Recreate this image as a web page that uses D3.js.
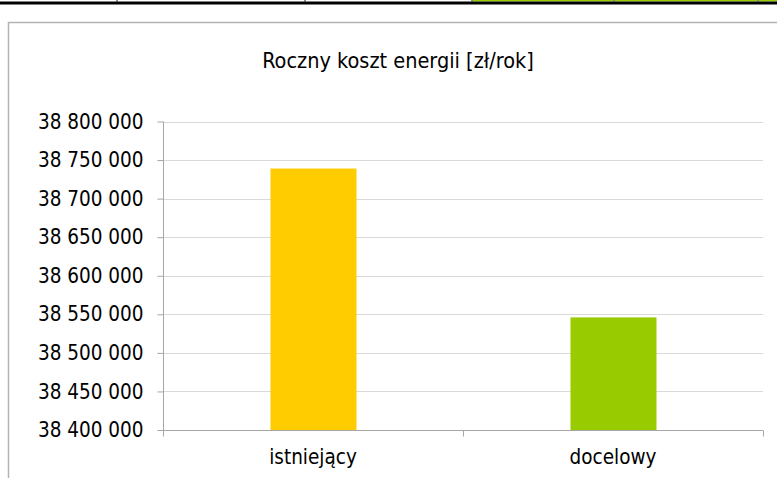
<!DOCTYPE html>
<html>
<head>
<meta charset="utf-8">
<script src="https://cdn.jsdelivr.net/npm/d3@7"></script>
<style>
  html, body { margin: 0; padding: 0; background: #fff; overflow: hidden; }
  svg { display: block; }
  text { font-family: "DejaVu Sans Condensed", "DejaVu Sans", sans-serif; fill: #000; }
</style>
</head>
<body>
<svg id="chart" width="777" height="478"></svg>
<script>
// data
let categories = ["istniejący", "docelowy"];
let values = [38739000, 38546000];
let barColors = ["#ffcc00", "#99cc00"];
let yTicks = [38400000, 38450000, 38500000, 38550000, 38600000, 38650000, 38700000, 38750000, 38800000];
let title = "Roczny koszt energii [zł/rok]";

// leftover table strip on top of the page (cells, green ones on the right)
let stripCells = [0, 117, 305, 472, 614, 758];
let stripGreen = [false, false, false, true, true, true];

let svg = d3.select("#chart");

let plot = { left: 163, right: 763, top: 121.5, bottom: 430 };

let x = d3.scaleBand().domain(categories).range([plot.left, plot.right]).paddingInner(0).paddingOuter(0);
let y = d3.scaleLinear().domain([yTicks[0], yTicks[yTicks.length - 1]]).range([plot.bottom, plot.top]);

let pl = d3.formatLocale({ decimal: ",", thousands: " ", grouping: [3], currency: ["", ""] });
let fmt = pl.format(",d");

// top strip
svg.append("g").selectAll("rect").data(stripCells).enter().append("rect")
	.attr("x", function(d) { return d; })
	.attr("y", 0)
	.attr("width", function(d, i) { return (i < stripCells.length - 1 ? stripCells[i + 1] : 777) - d; })
	.attr("height", 1.5)
	.attr("fill", function(d, i) { return stripGreen[i] ? "#99cc00" : "#fff"; });
svg.append("g").selectAll("rect").data(stripCells.slice(1)).enter().append("rect")
	.attr("x", function(d) { return d - 1; })
	.attr("y", 0).attr("width", 2).attr("height", 1.5)
	.attr("fill", "#888");
svg.append("rect").attr("x", 0).attr("y", 1.5).attr("width", 777).attr("height", 3).attr("fill", "#000");

// chart frame (runs off the page on the right and bottom)
svg.append("path")
	.attr("d", "M8.5,480 V22.5 H780")
	.attr("fill", "none")
	.attr("stroke", "#b3b3b3")
	.attr("stroke-width", 1.5);

// title
svg.append("text")
	.attr("x", 398).attr("y", 68)
	.attr("text-anchor", "middle")
	.style("font-size", "21.5px")
	.text(title);

// gridlines
svg.append("g").selectAll("line").data(yTicks.slice(1)).enter().append("line")
	.attr("x1", plot.left).attr("x2", plot.right)
	.attr("y1", function(d) { return Math.round(y(d)) + 0.5; })
	.attr("y2", function(d) { return Math.round(y(d)) + 0.5; })
	.attr("stroke", "#d9d9d9").attr("stroke-width", 1);

// bars
let barW = 86;
svg.append("g").selectAll("rect").data(values).enter().append("rect")
	.attr("x", function(d, i) { return x(categories[i]) + x.bandwidth() / 2 - barW / 2 + 0.5; })
	.attr("y", function(d) { return y(d); })
	.attr("width", barW)
	.attr("height", function(d) { return plot.bottom - y(d); })
	.attr("fill", function(d, i) { return barColors[i]; });

// y axis
let yAxis = svg.append("g")
	.attr("transform", "translate(" + (plot.left + 0.5) + ",0)")
	.call(d3.axisLeft(y).tickValues(yTicks).tickFormat(fmt).tickSize(6).tickSizeOuter(0).tickPadding(14));
yAxis.select(".domain").attr("stroke", "#a6a6a6").attr("d", "M0," + plot.top + "V" + (plot.bottom + 6));
yAxis.selectAll(".tick line").attr("stroke", "#a6a6a6");
yAxis.selectAll(".tick text").style("font-size", "20.5px").style("font-family", "\"DejaVu Sans Condensed\", sans-serif").attr("fill", "#000");

// x axis
let xAxis = svg.append("g")
	.attr("transform", "translate(0," + (plot.bottom + 0.5) + ")")
	.call(d3.axisBottom(x).tickSize(0).tickPadding(19));
xAxis.select(".domain").attr("stroke", "#a6a6a6").attr("d", "M" + plot.left + ",0H" + plot.right);
xAxis.selectAll(".tick text").style("font-size", "20.5px").style("font-family", "\"DejaVu Sans Condensed\", sans-serif").attr("fill", "#000");
// category boundary ticks
let bounds = [plot.left, plot.left + x.bandwidth(), plot.right];
xAxis.append("g").selectAll("line").data(bounds).enter().append("line")
	.attr("x1", function(d) { return Math.round(d) + 0.5; })
	.attr("x2", function(d) { return Math.round(d) + 0.5; })
	.attr("y1", 0).attr("y2", 6)
	.attr("stroke", "#a6a6a6");
</script>
</body>
</html>
